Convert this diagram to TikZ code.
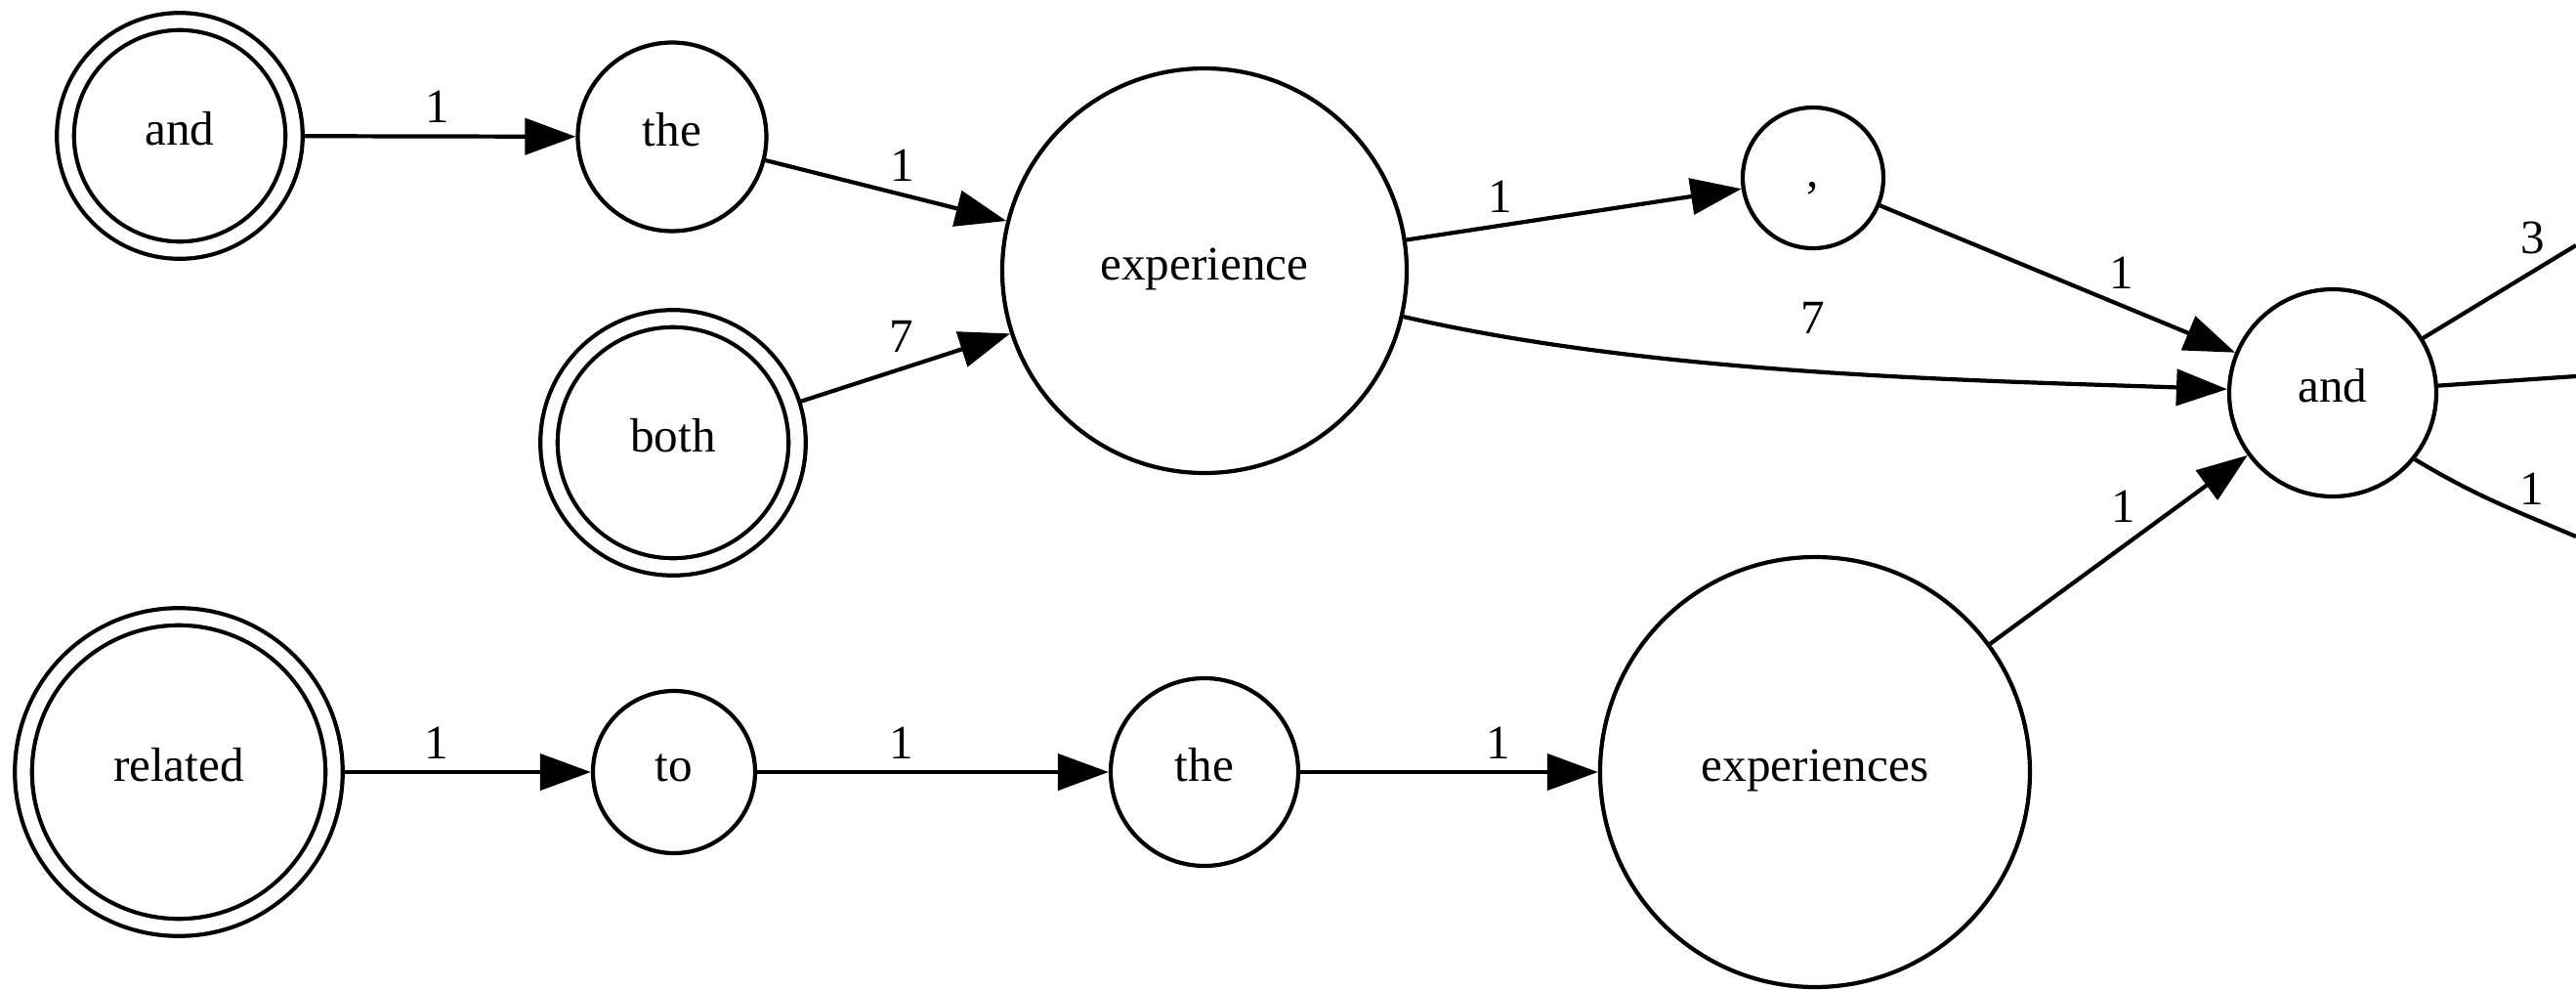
\documentclass[tikz,border=0pt]{standalone}
\usepackage{fontspec}
\setmainfont{Liberation Serif}
\usetikzlibrary{arrows.meta}

\begin{document}
\begin{tikzpicture}[
    word/.style = {draw, circle, line width=1.2pt, inner sep=0pt, text height=0.75em, text depth=0.2em, font=\fontsize{14}{16}\selectfont},
    firstword/.style = {word, double, double distance=3.8pt, outer sep=3pt},
    link/.style = {line width=1.2pt, -{Triangle[length=5.2mm, width=3.7mm]}},
    stub/.style = {line width=1.2pt},
    lbl/.style = {font=\fontsize{14}{16}\selectfont}
]
                \useasboundingbox (0,0) rectangle (26.37,-10.13);

                % words
                \node[firstword, minimum size=2.34cm] (and) at (1.84,-1.39) {and};
                \node[word, minimum size=1.93cm] (the) at (6.88,-1.40) {the};
                \node[firstword, minimum size=2.54cm] (both) at (6.89,-4.53) {both};
                \node[word, minimum size=4.14cm] (experience) at (12.33,-2.77) {experience};
                \node[word, minimum size=1.44cm] (comma) at (18.56,-1.82) {,};
                \node[word, minimum size=2.12cm] (and2) at (23.88,-4.02) {and};
                \node[firstword, minimum size=3.18cm] (related) at (1.83,-7.90) {related};
                \node[word, minimum size=1.66cm] (to) at (6.90,-7.90) {to};
                \node[word, minimum size=1.92cm] (the2) at (12.33,-7.90) {the};
                \node[word, minimum size=4.40cm] (experiences) at (18.58,-7.90) {experiences};

                % loose ends on the right
                \coordinate (outA) at (26.37,-2.51);
                \coordinate (outB) at (26.37,-3.85);
                \coordinate (outC) at (26.37,-5.49);

                \draw[link] (and) -- node[lbl, pos=0.49, above] {1} (the);
                \draw[link] (the) -- node[lbl, pos=0.57, above] {1} (experience);
                \draw[link] (both) -- node[lbl, pos=0.48, above=1pt] {7} (experience);
                \draw[link] (experience) -- node[lbl, pos=0.28, above] {1} (comma);
                \draw[link] (experience) to[out=-13, in=178, looseness=0.8] node[lbl, pos=0.5, above=0.25cm] {7} (and2);
                \draw[link] (comma) -- node[lbl, pos=0.68, above=1pt] {1} (and2);
                \draw[link] (experiences) -- node[lbl, pos=0.52, above=1mm] {1} (and2);

                \draw[link] (related) -- node[lbl, pos=0.375, above] {1} (to);
                \draw[link] (to) -- node[lbl, pos=0.41, above] {1} (the2);
                \draw[link] (the2) -- node[lbl, pos=0.665, above] {1} (experiences);

                \draw[stub] (and2) -- node[lbl, pos=0.72, above=1pt] {3} (outA);
                \draw[stub] (and2) -- (outB);
                \draw[stub] (and2.-39) to[out=-31, in=157] node[lbl, pos=0.75, above] {1} (outC);

            \end{tikzpicture}
\end{document}
